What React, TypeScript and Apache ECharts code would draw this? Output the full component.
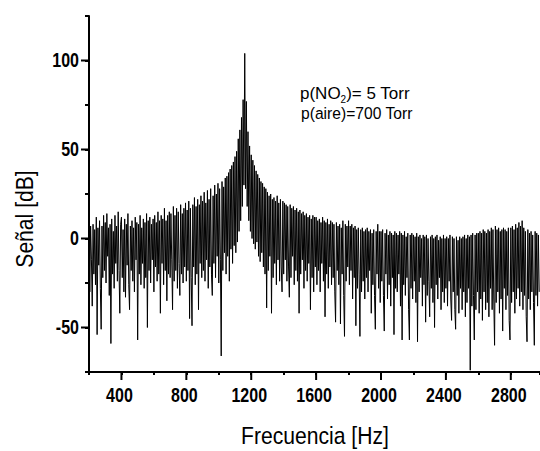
import React, { useEffect, useRef } from "react";
import * as echarts from "echarts";

// Frequency grid of the sampled spectrum (Hz)
const freqStart = 200;
const freqStep = 5;

// Signal level (dB), one value per 5 Hz from 200 Hz (rows of 100 Hz)
const signal: number[] = [
  10, -30, 7, -12, -38, 8, -20, 5, -26, 12, -54, 6, -15, 10, -28, -51, 7, -22, 13, -18,
  9, -25, 14, -10, 6, -32, 8, -59, 11, -20, 4, -28, 13, -14, 7, -24, 15, -18, -42, 8,
  12, -22, 5, -30, 11, -33, 8, -15, 14, -26, -40, 7, -18, 10, -24, 6, -30, 12, -12, 9,
  -57, 8, -20, 13, -26, 6, -14, 11, -28, 9, -22, 14, -50, 10, -18, 12, -25, 8, -12, 11,
  -30, 13, -16, 9, -24, 15, -20, 10, -42, 13, -14, 11, -26, 17, -18, 10, -35, 13, -20, 15,
  -22, 14, -12, -40, 18, -24, 13, -18, 17, -28, 15, -14, -32, 19, -20, 14, -25, 17, -16, 20,
  -24, 16, -18, 21, -45, 17, -22, -49, 19, -16, 23, -26, 18, -20, 22, -40, 19, -14, 24, -22,
  21, -18, 26, -24, 20, -12, 27, -28, 22, -16, 28, -20, -32, 24, -14, 30, -22, 25, -10, 31,
  -25, 28, -12, -66, 32, -18, 29, -8, 34, -20, 35, -10, 37, -24, 39, -6, 41, -14, 43, -4,
  46, -8, 49, -2, 56, 4, 61, 10, 68, 18, 78, 30, 104, 28, 77, 18, 60, 10, 52, 4,
  47, 0, 44, -3, 41, -6, 38, -2, 36, -10, 34, -13, 32, -8, 31, -16, 29, -20, 28, -39,
  26, -18, 24, -10, 25, -42, 22, -22, 23, -14, 21, -26, 24, -12, 20, -24, 22, -16, -30, 21,
  -20, 20, -12, 19, -24, 18, -16, -33, 19, -22, 17, -10, 18, -26, 16, -18, 17, -24, 15, -42,
  16, -20, 14, -12, 15, -28, 13, -18, 14, -24, 12, -14, 13, -40, 11, -22, 13, -30, 12, -16,
  12, -26, 10, -18, 11, -30, 9, -14, 12, -24, 10, -44, 9, -20, 11, -28, 8, -16, 10, -26,
  9, -22, 8, -30, -47, 9, -18, 7, -26, 8, -48, 6, -20, 10, -32, -55, 8, -24, 7, -16,
  10, -26, 7, -18, 8, -34, 6, -22, 7, -49, 5, -28, 6, -20, -55, 5, -30, 6, -24, 4,
  -34, 5, -22, 6, -30, 4, -18, 5, -42, 3, -26, 5, -32, -51, 4, -20, 8, -28, 4, -36,
  4, -24, 5, -32, -52, 3, -20, 5, -34, 2, -26, 4, -38, 3, -22, 2, -54, 4, -28, 3,
  -30, 2, -20, 4, -38, 3, -57, 2, -26, 4, -32, 1, -22, 3, -40, -57, 2, -28, 3, -34,
  2, -24, 1, -36, 3, -58, 1, -30, 2, -22, 0, -38, 2, -26, 1, -47, 2, -32, 0, -24,
  -44, 1, -28, 2, -36, 0, -50, 1, -26, 2, -34, -1, -22, 1, -40, 0, -30, 2, -36, 0,
  -28, 1, -38, 0, -24, 2, -34, -46, 1, -30, 0, -40, -51, 1, -32, -1, -42, 1, -28, 0,
  -40, 1, -30, 2, -44, 0, -36, 2, -28, 1, -74, 2, -38, 3, -32, -57, 2, -40, 3, -30,
  3, -42, 4, -34, 3, -46, 5, -30, 4, -40, 3, -36, 5, -44, 4, -28, 6, -40, 5, -34,
  -60, 7, -36, 5, -30, 6, -42, 4, -34, 5, -52, 6, -28, 5, -40, 4, -32, 6, -46, -57,
  6, -36, 7, -30, 5, -42, 8, -34, 6, -28, 9, -38, 7, -30, 10, -40, 6, -32, 4, -44,
  -58, 5, -34, 3, -40, 4, -30, 2, -36, -60, 4, -32, 3, -38, 2, -30,
];

const xTickLabels = [400, 800, 1200, 1600, 2000, 2400, 2800];
const yTickLabels = [-50, 0, 50, 100];
const xTitle = "Frecuencia [Hz]";
const yTitle = "Señal [dB]";
const noteLine1 = "{n|p(NO}{s|2}{n|)= 5 Torr}";
const noteLine2 = "p(aire)=700 Torr";

const FONT = '"Liberation Sans", Arial, Helvetica, sans-serif';

export default function App() {
  const ref = useRef<HTMLDivElement>(null);

  useEffect(() => {
    const chart = echarts.init(ref.current!, null, { renderer: "svg" });
    const data = signal.map((v, i) => [freqStart + i * freqStep, v]);

    chart.setOption({
      animation: false,
      backgroundColor: "#fff",
      grid: { left: 89, top: 16, right: 0, bottom: 79, containLabel: false },
      xAxis: {
        type: "value",
        min: 200,
        max: 2980,
        interval: 200,
        axisLine: { show: true, onZero: false, lineStyle: { color: "#000", width: 2 } },
        axisTick: { show: true, length: 3, lineStyle: { color: "#000", width: 2 } },
        axisLabel: { show: false },
        splitLine: { show: false },
      },
      yAxis: {
        type: "value",
        min: -75,
        max: 125,
        interval: 25,
        axisLine: { show: true, onZero: false, lineStyle: { color: "#000", width: 2 } },
        axisTick: { show: true, length: 4, lineStyle: { color: "#000", width: 2 } },
        axisLabel: { show: false },
        splitLine: { show: false },
      },
      series: [
        {
          type: "line",
          data,
          symbol: "none",
          showSymbol: false,
          silent: true,
          lineStyle: { color: "#000", width: 1 },
        },
      ],
    });

    const bottomY = chart.convertToPixel({ yAxisIndex: 0 }, -75) as number;
    const leftX = chart.convertToPixel({ xAxisIndex: 0 }, 200) as number;
    const graphics: any[] = [];

    xTickLabels.forEach((v) => {
      const px = chart.convertToPixel({ xAxisIndex: 0 }, v) as number;
      graphics.push({
        type: "line",
        silent: true,
        shape: { x1: px, y1: bottomY, x2: px, y2: bottomY + 8 },
        style: { stroke: "#000", lineWidth: 2 },
      });
      graphics.push({
        type: "text",
        x: px - 2,
        y: bottomY + 23,
        scaleX: 0.8,
        silent: true,
        style: {
          text: String(v),
          fontSize: 20,
          fontWeight: "bold",
          fontFamily: FONT,
          fill: "#000",
          align: "center",
          verticalAlign: "middle",
          textAlign: "center",
          textVerticalAlign: "middle",
        },
      });
    });

    yTickLabels.forEach((v) => {
      const py = chart.convertToPixel({ yAxisIndex: 0 }, v) as number;
      graphics.push({
        type: "line",
        silent: true,
        shape: { x1: leftX - 8, y1: py, x2: leftX, y2: py },
        style: { stroke: "#000", lineWidth: 2 },
      });
      graphics.push({
        type: "text",
        x: leftX - 10,
        y: py,
        scaleX: 0.8,
        silent: true,
        style: {
          text: String(v),
          fontSize: 20,
          fontWeight: "bold",
          fontFamily: FONT,
          fill: "#000",
          align: "right",
          verticalAlign: "middle",
          textAlign: "right",
          textVerticalAlign: "middle",
        },
      });
    });

    graphics.push({
      type: "text",
      x: 315,
      y: 436,
      scaleX: 0.88,
      silent: true,
      style: {
        text: xTitle,
        fontSize: 24,
        fontFamily: FONT,
        fill: "#000",
        align: "center",
        verticalAlign: "middle",
        textAlign: "center",
        textVerticalAlign: "middle",
      },
    });

    graphics.push({
      type: "text",
      x: 25,
      y: 219,
      rotation: Math.PI / 2,
      scaleX: 0.88,
      silent: true,
      style: {
        text: yTitle,
        fontSize: 24,
        fontFamily: FONT,
        fill: "#000",
        align: "center",
        verticalAlign: "middle",
        textAlign: "center",
        textVerticalAlign: "middle",
      },
    });

    graphics.push({
      type: "text",
      x: 300,
      y: 93,
      scaleX: 1.0,
      silent: true,
      style: {
        text: noteLine1,
        fill: "#000",
        align: "left",
        verticalAlign: "middle",
        textAlign: "left",
        textVerticalAlign: "middle",
        rich: {
          n: { fontSize: 17, fontFamily: FONT, fill: "#000" },
          s: { fontSize: 10, fontFamily: FONT, fill: "#000", padding: [12, 0, 0, 0] },
        },
      },
    });

    graphics.push({
      type: "text",
      x: 301,
      y: 113,
      scaleX: 0.92,
      silent: true,
      style: {
        text: noteLine2,
        fontSize: 17,
        fontFamily: FONT,
        fill: "#000",
        align: "left",
        verticalAlign: "middle",
        textAlign: "left",
        textVerticalAlign: "middle",
      },
    });

    chart.setOption({ graphic: { elements: graphics } });

    return () => {
      chart.dispose();
    };
  }, []);

  return (
    <div
      ref={ref}
      style={{ position: "absolute", left: 0, top: 0, width: 540, height: 451, background: "#fff" }}
    />
  );
}
